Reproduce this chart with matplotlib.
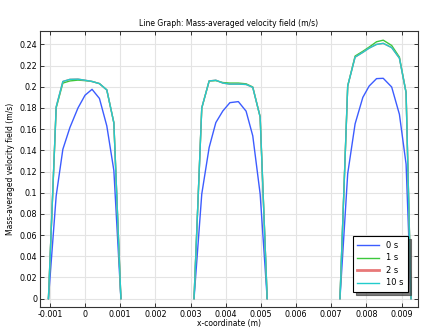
import numpy as np
import matplotlib
matplotlib.use("Agg")
import matplotlib.pyplot as plt
from matplotlib.ticker import FuncFormatter

# x positions of the three channels (m)
x1 = [-0.00104, -0.00082, -0.00063, -0.00043, -0.00020, 0.0, 0.00020, 0.00041, 0.00062, 0.00082, 0.00102]
x2 = [0.00310, 0.00332, 0.00353, 0.00372, 0.00392, 0.00412, 0.00436, 0.00458, 0.00477, 0.00498, 0.00518]
x3 = [0.00725, 0.00747, 0.00768, 0.00790, 0.00808, 0.00829, 0.00848, 0.00872, 0.00894, 0.00913, 0.00927]

# velocity (m/s) at t = 0 s
v0_1 = [0, 0.097, 0.141, 0.1615, 0.180, 0.192, 0.1976, 0.189, 0.163, 0.121, 0]
v0_2 = [0, 0.0988, 0.1427, 0.1662, 0.1772, 0.185, 0.186, 0.177, 0.1537, 0.0988, 0]
v0_3 = [0, 0.118, 0.165, 0.190, 0.2007, 0.2077, 0.208, 0.1998, 0.174, 0.127, 0]
# t = 1 s
v1_1 = [0, 0.180, 0.2035, 0.2055, 0.2063, 0.2058, 0.205, 0.203, 0.197, 0.166, 0]
v1_2 = [0, 0.180, 0.2055, 0.2058, 0.204, 0.2035, 0.2035, 0.2028, 0.1998, 0.1716, 0]
v1_3 = [0, 0.2008, 0.229, 0.2335, 0.2375, 0.2425, 0.2440, 0.2390, 0.228, 0.1945, 0]
# t = 2 s
v2_1 = [0, 0.181, 0.205, 0.207, 0.2072, 0.2062, 0.205, 0.203, 0.197, 0.166, 0]
v2_2 = [0, 0.180, 0.2055, 0.2062, 0.2035, 0.2025, 0.2025, 0.2022, 0.1995, 0.1716, 0]
v2_3 = [0, 0.2008, 0.228, 0.2325, 0.2365, 0.2400, 0.2410, 0.2370, 0.227, 0.1945, 0]
# t = 10 s
v10_1 = v2_1
v10_2 = v2_2
v10_3 = v2_3

labels = ["0 s", "1 s", "2 s", "10 s"]
colors = ["#3c5cff", "#3cc83c", "#e87878", "#22cccc"]
series = [(v0_1, v0_2, v0_3), (v1_1, v1_2, v1_3), (v2_1, v2_2, v2_3), (v10_1, v10_2, v10_3)]

plt.rcParams["font.family"] = "DejaVu Sans"
fig = plt.figure(figsize=(4.26, 3.27), dpi=100)
ax = fig.add_axes([0.0939, 0.0612, 0.8866, 0.8438])

nan = [np.nan]
xs = x1 + nan + x2 + nan + x3
for lab, col, (a, b, c) in zip(labels, colors, series):
    ys = a + nan + b + nan + c
    ax.plot(xs, ys, color=col, lw=1.0, label=lab)

ax.set_xlim(-0.00128, 0.00946)
ax.set_ylim(-0.0079, 0.2526)
ax.set_xticks(np.arange(-0.001, 0.0091, 0.001))
ax.set_yticks(np.arange(0, 0.241, 0.02))
fmt = FuncFormatter(lambda v, p: ("%g" % round(v, 6)) if abs(v) > 1e-12 else "0")
ax.xaxis.set_major_formatter(fmt)
ax.yaxis.set_major_formatter(fmt)
ax.tick_params(direction="in", length=3, width=0.7, labelsize=5.8, pad=2,
               top=True, right=True, color="#333333")
ax.grid(True, color="#e4e4e4", lw=0.8)
ax.set_axisbelow(True)
for s in ax.spines.values():
    s.set_linewidth(0.8)
    s.set_color("#333333")

ax.set_title("Line Graph: Mass-averaged velocity field (m/s)", fontsize=5.5, pad=4)
ax.set_xlabel("x-coordinate (m)", fontsize=5.5, labelpad=0)
ax.set_ylabel("Mass-averaged velocity field (m/s)", fontsize=5.5, labelpad=3)

leg = ax.legend(loc="lower right", bbox_to_anchor=(0.985, 0.039), fontsize=6,
                fancybox=False, shadow={"color": "#444444", "alpha": 0.7},
                framealpha=1, edgecolor="black",
                handlelength=2.6, borderpad=0.55, labelspacing=0.42)
leg.get_frame().set_linewidth(0.8)
leg.legend_handles[2].set_linewidth(2.0)

fig.savefig("out.png", dpi=100)
